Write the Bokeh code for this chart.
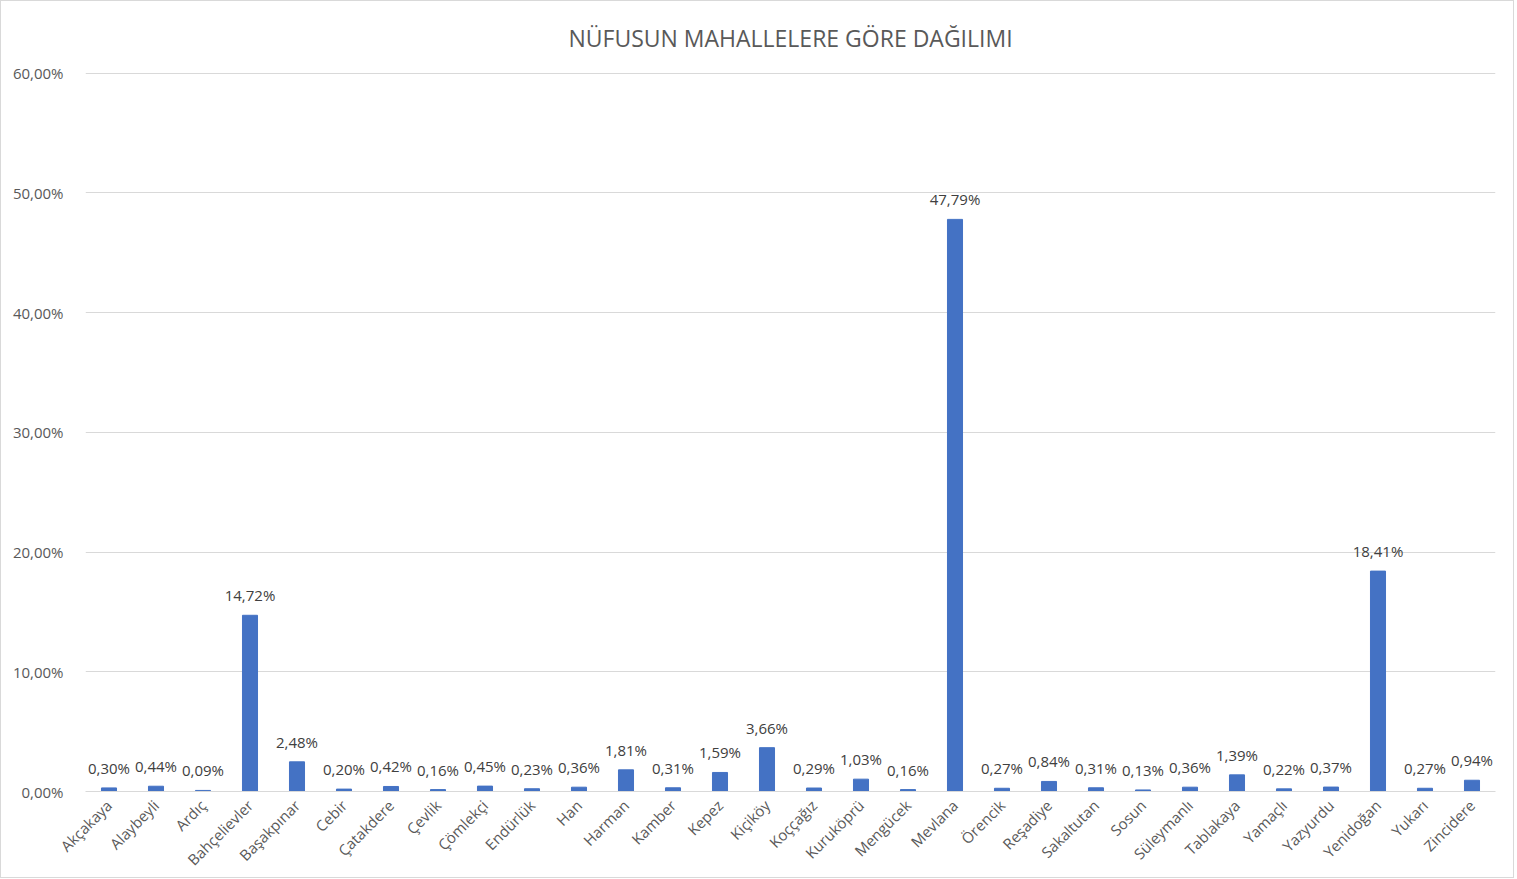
import math
from bokeh.plotting import figure
from bokeh.models import ColumnDataSource, CustomJSTickFormatter, Range1d, FixedTicker
from bokeh.core.properties import value
from bokeh.embed import file_html
from bokeh.resources import INLINE

categories = ["Akçakaya", "Alaybeyli", "Ardıç", "Bahçelievler", "Başakpınar", "Cebir",
              "Çatakdere", "Çevlik", "Çömlekçi", "Endürlük", "Han", "Harman", "Kamber",
              "Kepez", "Kiçiköy", "Koççağız", "Kuruköprü", "Mengücek", "Mevlana", "Örencik",
              "Reşadiye", "Sakaltutan", "Sosun", "Süleymanlı", "Tablakaya", "Yamaçlı",
              "Yazyurdu", "Yenidoğan", "Yukarı", "Zincidere"]
values = [0.30, 0.44, 0.09, 14.72, 2.48, 0.20, 0.42, 0.16, 0.45, 0.23, 0.36, 1.81, 0.31,
          1.59, 3.66, 0.29, 1.03, 0.16, 47.79, 0.27, 0.84, 0.31, 0.13, 0.36, 1.39, 0.22,
          0.37, 18.41, 0.27, 0.94]
y_ticks = [0, 10, 20, 30, 40, 50, 60]
title_text = "NÜFUSUN MAHALLELERE GÖRE DAĞILIMI"

labels = [("%.2f" % v).replace(".", ",") + "%" for v in values]
src = ColumnDataSource(dict(cat=categories, val=values, lab=labels))

FONT = "Open Sans"
p = figure(x_range=categories, y_range=Range1d(0, 60.06), width=1514, height=878,
           output_backend="svg", toolbar_location=None, title=title_text,
           min_border_left=84, min_border_right=20, min_border_bottom=76, min_border_top=71)

p.title.align = "center"
p.title.text_font = FONT
p.title.text_font_size = "23px"
p.title.text_font_style = "normal"
p.title.text_color = "#595959"
p.title.standoff = 37

p.vbar(x="cat", top="val", width=0.32, source=src, color="#4472C4")
p.text(x="cat", y="val", text="lab", source=src, y_offset=-10,
       text_align="center", text_baseline="bottom",
       text_font=value(FONT), text_font_size="15px", text_color="#404040")

p.outline_line_color = None
p.background_fill_color = "white"
p.border_fill_color = "white"
p.xgrid.grid_line_color = None
p.ygrid.grid_line_color = "#d9d9d9"
p.ygrid.grid_line_width = 1

p.yaxis.ticker = FixedTicker(ticks=y_ticks)
p.yaxis.formatter = CustomJSTickFormatter(code="return tick.toFixed(2).replace('.', ',') + '%';")
p.yaxis.axis_line_color = None
p.yaxis.major_tick_line_color = None
p.yaxis.minor_tick_line_color = None
p.yaxis.major_label_text_font = FONT
p.yaxis.major_label_text_font_size = "15px"
p.yaxis.major_label_text_color = "#595959"
p.yaxis.major_label_standoff = 16

p.xaxis.axis_line_color = "#d9d9d9"
p.xaxis.major_tick_line_color = None
p.xaxis.minor_tick_line_color = None
p.xaxis.major_label_orientation = math.pi / 4
p.xaxis.major_label_text_font = FONT
p.xaxis.major_label_text_font_size = "15px"
p.xaxis.major_label_text_color = "#595959"
p.xaxis.major_label_standoff = 5
p.x_range.range_padding = 0.0

p.styles = {"border": "1px solid #d9d9d9"}

open("out.html", "w").write(file_html(p, INLINE))
